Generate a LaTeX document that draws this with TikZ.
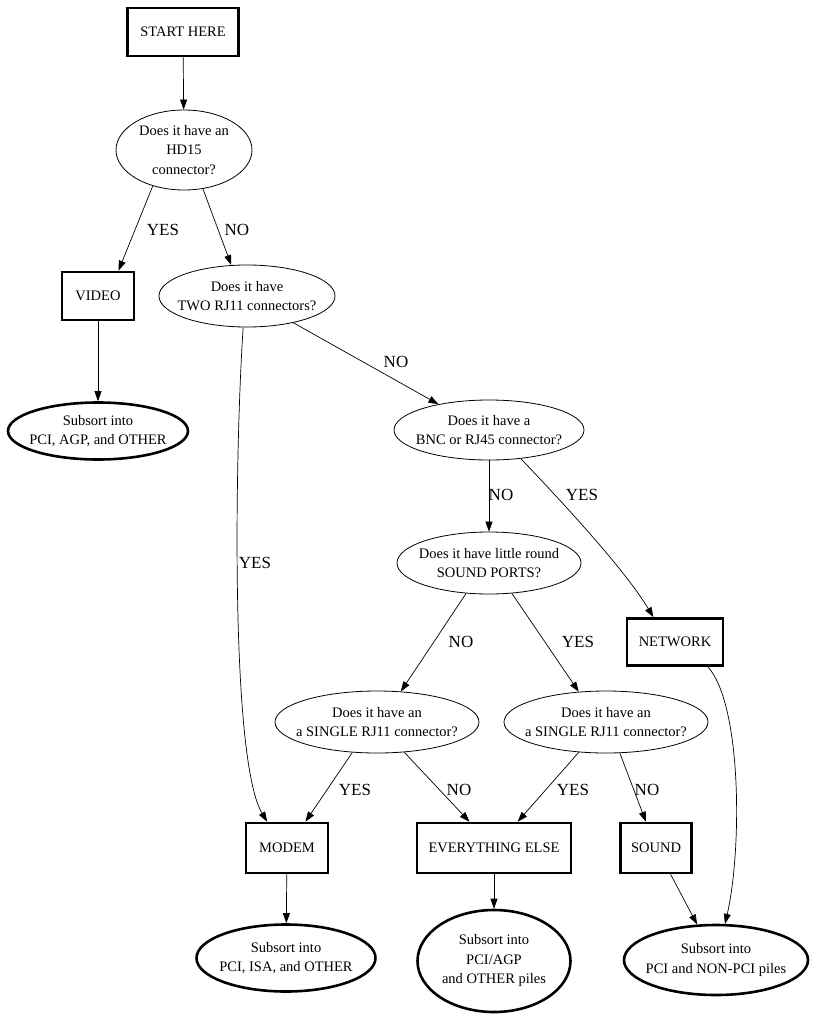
\documentclass[tikz,border=0pt]{standalone}
\usepackage{fontspec}
\setmainfont{Liberation Serif}
\usetikzlibrary{shapes.geometric,arrows.meta}
\tikzset{
	box/.style={draw,rectangle,line width=2.6pt,inner sep=0,align=center,font=\fontsize{14.5}{19}\selectfont},
	question/.style={draw,ellipse,line width=.8pt,inner xsep=-40pt,inner ysep=-20pt,align=center,font=\fontsize{14.5}{19.5}\selectfont},
	result/.style={draw,ellipse,line width=2.6pt,inner xsep=-40pt,inner ysep=-25pt,align=center,font=\fontsize{14.5}{19.5}\selectfont},
	link/.style={line width=.7pt,-{Triangle[length=10pt,width=7pt]}},
	answer/.style={font=\fontsize{17}{20}\selectfont,inner sep=0}
}
\begin{document}
\begin{tikzpicture}[x=1pt,y=-1pt]
\useasboundingbox(0,0)rectangle(815,1018);
\node[box,minimum width=111,minimum height=48](start)at(183,32){START HERE};
\node[question,minimum width=136,minimum height=80](hd15)at(184,150){Does it have an\\HD15\\connector?};
\node[box,minimum width=72,minimum height=48](video)at(98,296){VIDEO};
\node[question,minimum width=176,minimum height=62](tworj)at(247,296){Does it have\\TWO RJ11 connectors?};
\node[result,minimum width=180,minimum height=57](subvideo)at(98,431){Subsort into\\PCI, AGP, and OTHER};
\node[question,minimum width=190,minimum height=60](bnc)at(489,430){Does it have a\\BNC or RJ45 connector?};
\node[question,minimum width=184,minimum height=62](sndport)at(489,563){Does it have little round\\SOUND PORTS?};
\node[box,minimum width=96,minimum height=47](network)at(675,642){NETWORK};
\node[question,minimum width=204,minimum height=62](rjleft)at(377,722){Does it have an\\a SINGLE RJ11 connector?};
\node[question,minimum width=204,minimum height=62](rjright)at(606,722){Does it have an\\a SINGLE RJ11 connector?};
\node[box,minimum width=82,minimum height=50](modem)at(287,848){MODEM};
\node[box,minimum width=154,minimum height=50](else)at(494,848){EVERYTHING ELSE};
\node[box,minimum width=71,minimum height=50](sound)at(656,848){SOUND};
\node[result,minimum width=179,minimum height=67](submodem)at(286,958){Subsort into\\PCI, ISA, and OTHER};
\node[result,minimum width=153,minimum height=102](subelse)at(494,961){Subsort into\\PCI/AGP\\and OTHER piles};
\node[result,minimum width=184,minimum height=70](subpci)at(716,960){Subsort into\\PCI and NON-PCI piles};
\draw[link](start)--(hd15);
\draw[link](hd15.-131)--(video.51);
\draw[link](hd15.-64)--(tworj.117);
\draw[link](video)--(subvideo);
\draw[link](tworj.-97)..controls(235,450)and(230,760)..(modem.127);
\draw[link](tworj.-30)--(bnc.153);
\draw[link](bnc)--(sndport);
\draw[link](bnc.-42)..controls(565,505)and(625,570)..(network.131);
\draw[link](sndport.-127)--(rjleft.52);
\draw[link](sndport.-53)--(rjright.132);
\draw[link](rjleft.-129)--(modem.55);
\draw[link](rjleft.-48)--(else.133);
\draw[link](rjright.-132)--(else.48);
\draw[link](rjright.-66)--(sound.111);
\draw[link](modem)--(submodem);
\draw[link](else)--(subelse);
\draw[link](sound.-61)--(subpci.118);
\draw[link](network.-37)..controls(742,705)and(742,850)..(subpci.76);
\node[answer](a1)at(163,230){YES};
\node[answer](a2)at(237,230){NO};
\node[answer](a3)at(255,563){YES};
\node[answer](a4)at(396,362){NO};
\node[answer](a5)at(501,495){NO};
\node[answer](a6)at(582,495){YES};
\node[answer](a7)at(461,642){NO};
\node[answer](a8)at(578,642){YES};
\node[answer](a9)at(355,790){YES};
\node[answer](a10)at(459,790){NO};
\node[answer](a11)at(573,790){YES};
\node[answer](a12)at(647,790){NO};
\end{tikzpicture}
\end{document}
